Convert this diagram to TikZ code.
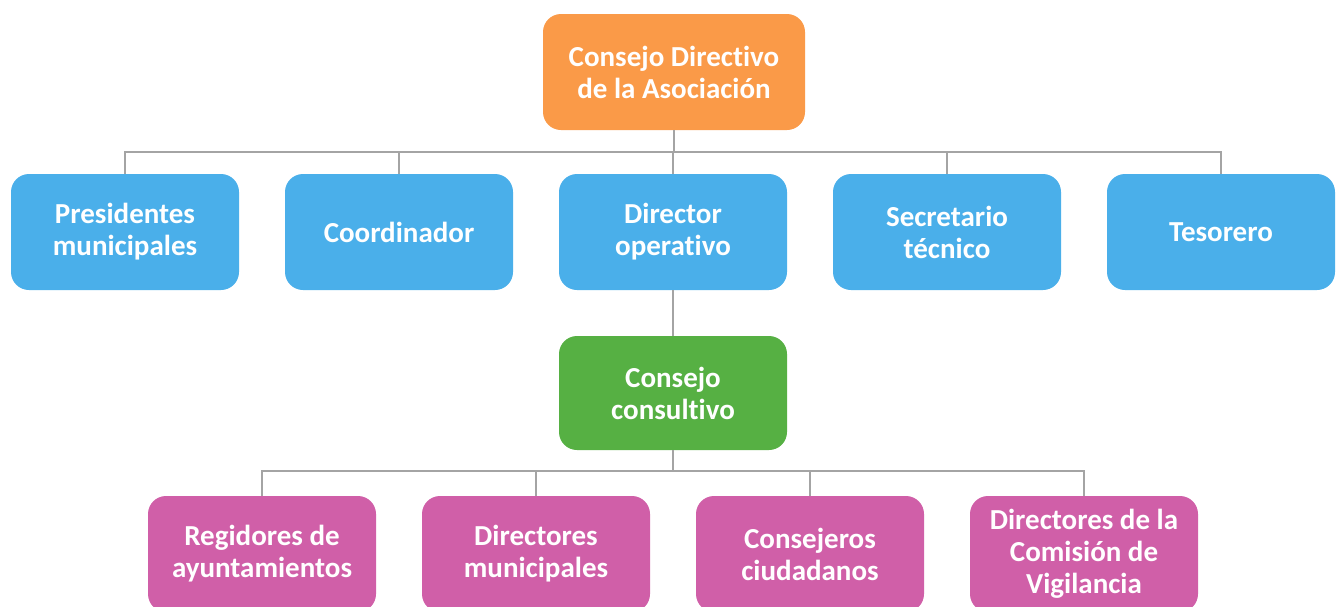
\documentclass[tikz,border=0pt]{standalone}
\usepackage{fontspec}
\setmainfont{Carlito}[Ligatures=NoCommon]
\begin{document}
\begin{tikzpicture}[x=1pt,y=-1pt,
  box/.style={draw=none,rounded corners=18pt,minimum width=228pt,minimum height=116pt,
    text=white,align=center,font=\bfseries\fontsize{29}{32}\selectfont,inner sep=0pt},
  orangebox/.style={box,fill=orgC,minimum width=262pt},
  bluebox/.style={box,fill=bluC},
  greenbox/.style={box,fill=grnC,minimum height=114pt},
  pinkbox/.style={box,fill=pnkC},
  conn/.style={draw=lineC,line width=2pt}]
\definecolor{orgC}{HTML}{FA9A48}
\definecolor{bluC}{HTML}{4AAFEA}
\definecolor{grnC}{HTML}{56B043}
\definecolor{pnkC}{HTML}{D05FA8}
\definecolor{lineC}{HTML}{A4A4A4}
\useasboundingbox (0,0) rectangle (1337,606);
\node[orangebox] (top) at (674,72) {Consejo Directivo\\de la Asociación};
\node[bluebox] (b1) at (125,232) {Presidentes\\municipales};
\node[bluebox] (b2) at (399,232) {Coordinador};
\node[bluebox] (b3) at (673,232) {Director\\operativo};
\node[bluebox] (b4) at (947,232) {Secretario\\técnico};
\node[bluebox] (b5) at (1221,232) {Tesorero};
\node[greenbox] (g) at (673,393) {Consejo\\consultivo};
\node[pinkbox] (p1) at (262,554) {Regidores de\\ayuntamientos};
\node[pinkbox] (p2) at (536,554) {Directores\\municipales};
\node[pinkbox] (p3) at (810,554) {Consejeros\\ciudadanos};
\node[pinkbox] (p4) at (1084,554) {Directores de la\\Comisión de\\Vigilancia};
\foreach \c in {b1,b2,b3,b4,b5}
  \draw[conn] (top.south) -- ++(0,22) -| (\c.north);
\draw[conn] (b3.south) -- (g.north);
\foreach \c in {p1,p2,p3,p4}
  \draw[conn] (g.south) -- ++(0,21) -| (\c.north);
\end{tikzpicture}
\end{document}
